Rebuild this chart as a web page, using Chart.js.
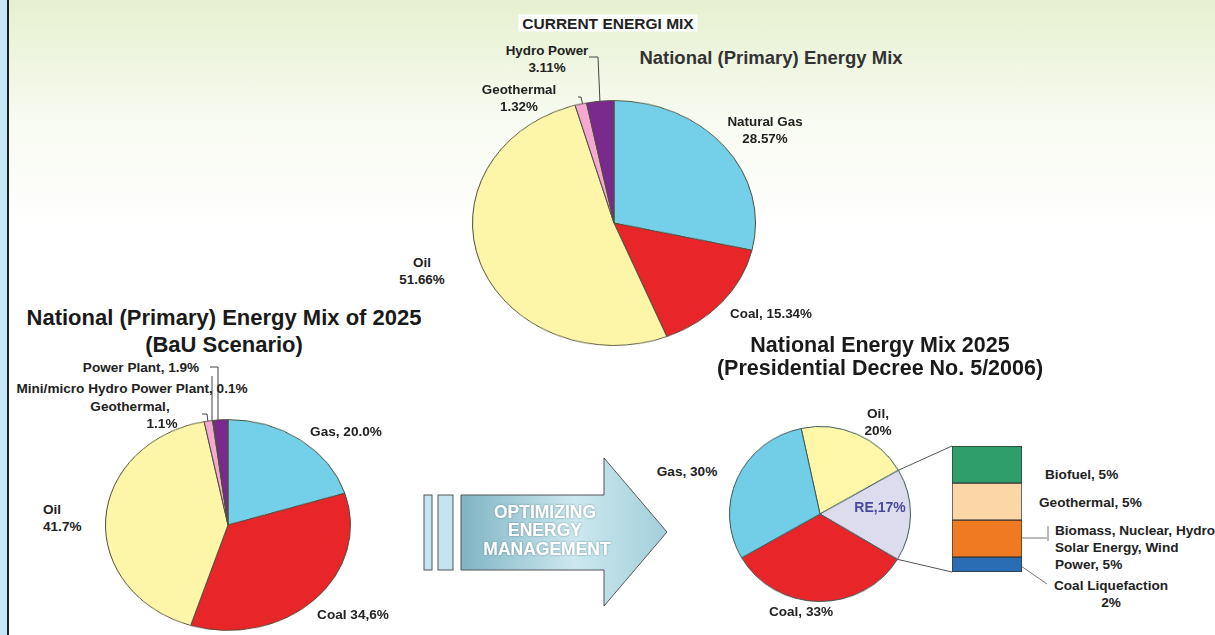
<!DOCTYPE html>
<html lang="en">
<head>
<meta charset="UTF-8">
<title>National Energy Mix</title>
<script src="https://cdn.jsdelivr.net/npm/chart.js"></script>
<style>
  html, body { margin: 0; padding: 0; }
  body {
    width: 1215px; height: 635px; overflow: hidden; position: relative;
    font-family: "Liberation Sans", Arial, sans-serif;
    background:
      linear-gradient(to bottom, rgba(226,238,200,0.85) 0px, rgba(240,246,226,0.5) 120px, rgba(255,255,255,0) 230px),
      #ffffff;
  }
  .strip { position: absolute; left: 0; top: 0; width: 7px; height: 635px; background: #c5e8f8; }
  .rule { position: absolute; left: 7px; top: 0; width: 2px; height: 635px; background: #1e1e1e; }
  .lbl {
    position: absolute; font-weight: bold; font-size: 13.4px; color: #222;
    text-align: center; line-height: 17px; white-space: nowrap;
    transform: translate(-50%, -50%);
  }
  .l13 { font-size: 13.6px; }
  .left { text-align: left; transform: translate(0, -50%); }
  .title { font-size: 22px; color: #1a1a1a; line-height: 27px; }
  .pie { position: absolute; }
  svg.overlay { position: absolute; left: 0; top: 0; pointer-events: none; }
</style>
</head>
<body>
  <div class="strip"></div>
  <div class="rule"></div>

  <!-- arrow graphic -->
  <svg class="overlay" width="1215" height="635">
    <defs>
      <linearGradient id="arrowFill" x1="0" y1="0" x2="1" y2="0">
        <stop offset="0" stop-color="#7fb4c4"/>
        <stop offset="0.55" stop-color="#cde8ef"/>
        <stop offset="1" stop-color="#a2cfdb"/>
      </linearGradient>
      <filter id="soft" x="-10%" y="-10%" width="120%" height="130%">
        <feDropShadow dx="0" dy="0" stdDeviation="0.8" flood-color="#3a6470" flood-opacity="0.6"/>
      </filter>
    </defs>
    <rect x="424" y="495" width="8" height="75" fill="#c4e5ef" stroke="#555" stroke-width="1"/>
    <rect x="438" y="495" width="15" height="75" fill="#c4e5ef" stroke="#555" stroke-width="1"/>
    <polygon points="461,495 604,495 604,458 667,532 604,606 604,570 461,570"
             fill="url(#arrowFill)" stroke="#555" stroke-width="1"/>
    <g font-family="Liberation Sans, Arial, sans-serif" font-weight="bold" font-size="17.5" fill="#ffffff"
       text-anchor="middle" filter="url(#soft)">
      <text x="545" y="518">OPTIMIZING</text>
      <text x="545" y="536">ENERGY</text>
      <text x="547" y="555">MANAGEMENT</text>
    </g>
    <!-- leader lines -->
    <g fill="none" stroke="#444" stroke-width="1">
      <polyline points="589,57 598,57 600,103"/>
      <polyline points="578,97 581,97 583,106"/>
      <polyline points="210,367 218,367 218,422"/>
      <polyline points="212,376 212,422"/>
      <polyline points="202,414 207,414 208,422"/>
    </g>
    <g fill="none" stroke="#777" stroke-width="1">
      <polyline points="1021,538 1047,538"/>
      <polyline points="1048,526 1048,541"/>
      <polyline points="1021,566 1047,584"/>
    </g>
    <g id="connectors" fill="none" stroke="#555" stroke-width="1"></g>
  </svg>

  <div class="pie" id="wrapCurrent"><canvas id="pieCurrent"></canvas></div>
  <div class="pie" id="wrapBau"><canvas id="pieBau"></canvas></div>
  <div class="pie" id="wrapDecree"><canvas id="pieDecree"></canvas></div>
  <div class="pie" id="wrapRe"><canvas id="barRe"></canvas></div>

  <!-- current mix labels -->
  <div class="lbl" style="left:608px;top:23px;font-size:15.5px;background:#fff;padding:0 4px;">CURRENT ENERGI MIX</div>
  <div class="lbl" style="left:771px;top:57px;font-size:18.5px;color:#333;">National (Primary) Energy Mix</div>
  <div class="lbl" style="left:547px;top:59px;">Hydro Power<br>3.11%</div>
  <div class="lbl" style="left:519px;top:98px;">Geothermal<br>1.32%</div>
  <div class="lbl" style="left:765px;top:130px;">Natural Gas<br>28.57%</div>
  <div class="lbl" style="left:422px;top:271px;">Oil<br>51.66%</div>
  <div class="lbl" style="left:771px;top:313px;">Coal, 15.34%</div>

  <!-- BaU labels -->
  <div class="lbl title" style="left:224px;top:331px;">National (Primary) Energy Mix of 2025<br>(BaU Scenario)</div>
  <div class="lbl l13" style="left:141px;top:367px;">Power Plant, 1.9%</div>
  <div class="lbl l13" style="left:132px;top:388px;">Mini/micro Hydro Power Plant, 0.1%</div>
  <div class="lbl l13" style="left:130px;top:406px;">Geothermal,</div>
  <div class="lbl l13" style="left:162px;top:423px;">1.1%</div>
  <div class="lbl l13" style="left:346px;top:431px;">Gas, 20.0%</div>
  <div class="lbl l13 left" style="left:43px;top:518px;">Oil<br>41.7%</div>
  <div class="lbl l13" style="left:353px;top:614px;">Coal 34,6%</div>

  <!-- decree labels -->
  <div class="lbl title" style="left:880px;top:357px;font-size:21.5px;line-height:23px;">National Energy Mix 2025<br>(Presidential Decree No. 5/2006)</div>
  <div class="lbl l13" style="left:878px;top:422px;">Oil,<br>20%</div>
  <div class="lbl l13" style="left:687px;top:471px;">Gas, 30%</div>
  <div class="lbl l13" style="left:880px;top:507px;color:#4a4a9a;font-size:14px;">RE,17%</div>
  <div class="lbl l13" style="left:801px;top:611px;">Coal, 33%</div>
  <div class="lbl l13 left" style="left:1045px;top:474px;">Biofuel, 5%</div>
  <div class="lbl l13 left" style="left:1039px;top:502px;">Geothermal, 5%</div>
  <div class="lbl l13 left" style="left:1055px;top:547px;">Biomass, Nuclear, Hydro<br>Solar Energy, Wind<br>Power, 5%</div>
  <div class="lbl l13" style="left:1111px;top:594px;">Coal Liquefaction<br>2%</div>

<script>
// current energy mix
const currentLabels = ['Natural Gas', 'Coal', 'Oil', 'Geothermal', 'Hydro Power'];
const currentValues = [28.57, 15.34, 51.66, 1.32, 3.11];

// 2025 BaU scenario
const bauLabels = ['Gas', 'Coal', 'Oil', 'Geothermal', 'Mini/micro Hydro Power Plant', 'Power Plant'];
const bauValues = [20.0, 34.6, 41.7, 1.1, 0.1, 1.9];

// 2025 presidential decree
const decreeLabels = ['Oil', 'RE', 'Coal', 'Gas'];
const decreeValues = [20, 17, 33, 30];

// breakdown of RE share (bottom to top)
const reLabels = ['Coal Liquefaction', 'Biomass, Nuclear, Hydro, Solar Energy, Wind Power', 'Geothermal', 'Biofuel'];
const reValues = [2, 5, 5, 5];
const reColors = ['#2a6db5', '#f07a22', '#fbd6a6', '#2f9e6b'];

Chart.defaults.animation = false;
Chart.defaults.plugins.legend.display = false;
Chart.defaults.plugins.tooltip.enabled = false;

// place a square canvas and squash it vertically to get the elliptical look
function placePie(wrapId, canvasId, cx, cy, rx, ry) {
    const size = rx * 2 + 2;
    const wrap = document.getElementById(wrapId);
    const cv = document.getElementById(canvasId);
    cv.width = size; cv.height = size;
    wrap.style.left = (cx - size / 2) + 'px';
    wrap.style.top = (cy - size / 2) + 'px';
    wrap.style.width = size + 'px';
    wrap.style.height = size + 'px';
    wrap.style.transform = 'scaleY(' + (ry / rx) + ')';
    return cv;
}

function pie(canvas, labels, values, colors, rotation, border) {
    return new Chart(canvas, {
        type: 'pie',
        data: {
            labels: labels,
            datasets: [{
                data: values,
                backgroundColor: colors,
                borderColor: border,
                borderWidth: 1
            }]
        },
        options: {
            responsive: false,
            rotation: rotation,
            layout: { padding: 0 }
        }
    });
}

const c1 = placePie('wrapCurrent', 'pieCurrent', 614, 223, 141, 122);
pie(c1, currentLabels, currentValues,
    ['#74d0e8', '#e8262a', '#fdf6a8', '#f4a8d2', '#7a2a8c'], 0, '#4e4e3a');

const c2 = placePie('wrapBau', 'pieBau', 228, 525, 122, 105);
pie(c2, bauLabels, bauValues,
    ['#74d0e8', '#e8262a', '#fdf6a8', '#f4a8d2', '#b0b0b0', '#7a2a8c'], 0, '#4e4e3a');

const dcx = 820, dcy = 514, drx = 90, dry = 87;
const c3 = placePie('wrapDecree', 'pieDecree', dcx, dcy, drx, dry);
const decreeChart = pie(c3, decreeLabels, decreeValues,
    ['#fff7a8', '#dcdcee', '#e8262a', '#72cde6'], -12, '#3b5a5a');

// stacked bar for the RE breakdown
const barWrap = document.getElementById('wrapRe');
const barCv = document.getElementById('barRe');
barCv.width = 70; barCv.height = 126;
barWrap.style.left = '952px';
barWrap.style.top = '446px';
const reChart = new Chart(barCv, {
    type: 'bar',
    data: {
        labels: ['RE'],
        datasets: reValues.map((v, i) => ({
            label: reLabels[i],
            data: [v],
            backgroundColor: reColors[i],
            borderColor: '#333',
            borderWidth: 1,
            borderSkipped: false
        }))
    },
    options: {
        responsive: false,
        layout: { padding: 0 },
        scales: {
            x: { display: false, stacked: true },
            y: { display: false, stacked: true, min: 0, max: 17 }
        },
        datasets: { bar: { barPercentage: 1, categoryPercentage: 1 } }
    }
});

// connector lines from RE slice edges to the bar corners
(function () {
    const arc = decreeChart.getDatasetMeta(0).data[1];
    const size = drx * 2 + 2;
    const sy = dry / drx;
    function toPage(ang) {
        const px = arc.x + Math.cos(ang) * arc.outerRadius;
        const py = arc.y + Math.sin(ang) * arc.outerRadius;
        return [dcx - size / 2 + px, dcy + (py - size / 2) * sy];
    }
    const a = toPage(arc.startAngle);
    const b = toPage(arc.endAngle);
    const top = reChart.getDatasetMeta(3).data[0];
    const bottom = reChart.getDatasetMeta(0).data[0];
    const left = 952 + top.x - top.width / 2;
    const g = document.getElementById('connectors');
    const ns = 'http://www.w3.org/2000/svg';
    [[a, [left, 446 + top.y]], [b, [left, 446 + bottom.base]]].forEach(([p, q]) => {
        const ln = document.createElementNS(ns, 'line');
        ln.setAttribute('x1', p[0]); ln.setAttribute('y1', p[1]);
        ln.setAttribute('x2', q[0]); ln.setAttribute('y2', q[1]);
        g.appendChild(ln);
    });
})();
</script>
</body>
</html>
